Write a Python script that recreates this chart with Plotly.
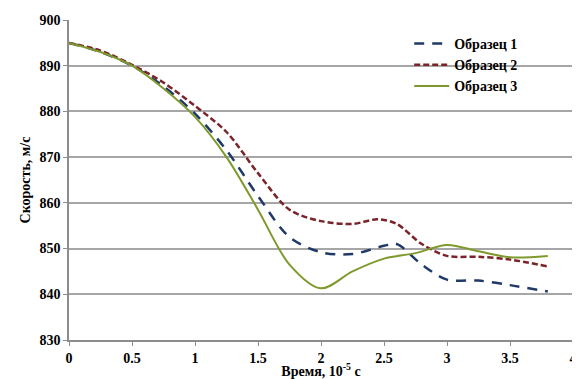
import plotly.graph_objects as go

t1 = [0, 0.25, 0.5, 0.75, 1.0, 1.25, 1.5, 1.75, 2.0, 2.25, 2.5, 2.6, 2.8, 3.0, 3.25, 3.5, 3.8]
s1 = [895, 893, 890, 885.5, 879.5, 871.5, 861.5, 852.5, 849.2, 848.8, 850.6, 851.0, 846.5, 843.2, 843.0, 842.0, 840.6]

t2 = [0, 0.25, 0.5, 0.75, 1.0, 1.25, 1.5, 1.75, 2.0, 2.25, 2.45, 2.6, 2.8, 3.0, 3.25, 3.5, 3.8]
s2 = [895, 893.3, 890.2, 886.3, 881.2, 875.5, 866.5, 858.5, 856.0, 855.4, 856.4, 855.4, 851.0, 848.4, 848.2, 847.6, 846.1]

t3 = [0, 0.25, 0.5, 0.75, 1.0, 1.25, 1.5, 1.75, 2.0, 2.25, 2.5, 2.75, 3.0, 3.25, 3.5, 3.8]
s3 = [895, 893, 890, 885, 878.8, 870, 858.5, 846.5, 841.3, 845.0, 847.8, 849.0, 850.8, 849.4, 848.1, 848.4]

names = ["Образец 1", "Образец 2", "Образец 3"]
xticks = [0, 0.5, 1, 1.5, 2, 2.5, 3, 3.5, 4]

fig = go.Figure()
fig.add_trace(go.Scatter(x=t1, y=s1, name=names[0], mode="lines",
                         line=dict(color="#1F3A68", width=2.5, dash="10px,8px", shape="spline", smoothing=0.9)))
fig.add_trace(go.Scatter(x=t2, y=s2, name=names[1], mode="lines",
                         line=dict(color="#7A2328", width=2.5, dash="6px,3px", shape="spline", smoothing=0.9)))
fig.add_trace(go.Scatter(x=t3, y=s3, name=names[2], mode="lines",
                         line=dict(color="#7F9A2C", width=2, shape="spline", smoothing=0.9)))

serif = "Liberation Serif"
fig.update_layout(
    width=572, height=371,
    margin=dict(l=61, r=7, t=12, b=39, autoexpand=False),
    paper_bgcolor="white", plot_bgcolor="white",
    font=dict(family=serif, size=13, color="black"),
    showlegend=True,
    legend=dict(x=0.675, y=0.975, xanchor="left", yanchor="top",
                font=dict(family=serif, size=14, color="black", weight="bold"),
                bgcolor="rgba(0,0,0,0)", itemwidth=35, tracegroupgap=0),
    xaxis=dict(range=[0, 4], tickvals=xticks, ticktext=[str(v) for v in xticks],
               showgrid=False, showline=True, linecolor="#8C8C8C", linewidth=1.5,
               ticks="outside", ticklen=4, tickcolor="#8C8C8C",
               tickfont=dict(family=serif, size=14, weight="bold"),
               automargin=False,
               title=dict(text="Время, 10<sup>-5</sup> с", standoff=0,
                          font=dict(family=serif, size=14, weight="bold")),
               zeroline=False),
    yaxis=dict(range=[830, 900], dtick=10,
               showgrid=True, gridcolor="#A6A6A6", gridwidth=1.5,
               showline=True, linecolor="#8C8C8C", linewidth=1.5,
               ticks="outside", ticklen=4, tickcolor="#8C8C8C",
               tickfont=dict(family=serif, size=14, weight="bold"),
               automargin=False,
               title=dict(text="Скорость, м/с", standoff=6,
                          font=dict(family=serif, size=14, weight="bold")),
               zeroline=False),
)

fig.write_html("out.html")
